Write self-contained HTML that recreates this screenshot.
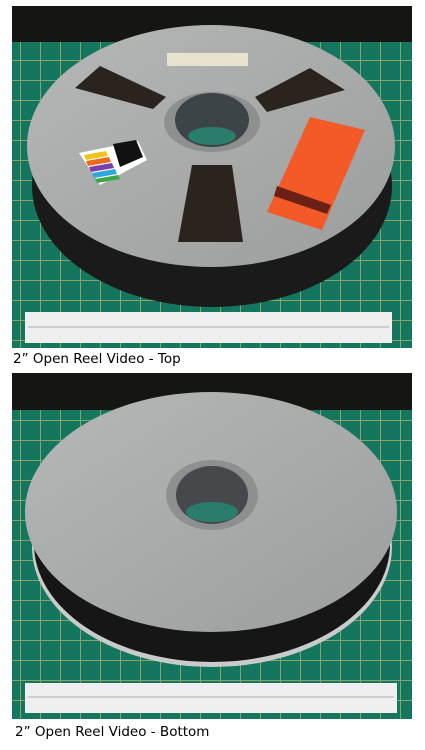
<!DOCTYPE html>
<html><head><meta charset="utf-8"><style>
html,body{margin:0;padding:0;background:#fff;width:425px;height:750px;overflow:hidden}
svg{position:absolute;left:0;top:0}
</style></head><body>
<svg width="425" height="750" viewBox="0 0 425 750">
<defs>
<pattern id="grid" width="20" height="20" patternUnits="userSpaceOnUse">
<rect width="20" height="20" fill="#157660"/>
<path d="M0 0.5H20M0.5 0V20" stroke="#b8b868" stroke-width="1" opacity="0.7"/>
</pattern>
<linearGradient id="metal" x1="0" y1="0" x2="1" y2="1">
<stop offset="0" stop-color="#b6b8b8"/><stop offset="0.5" stop-color="#a9abaa"/><stop offset="1" stop-color="#9c9e9d"/>
</linearGradient>
</defs>
<g>
<rect x="12" y="6" width="400" height="342" fill="url(#grid)"/>
<rect x="12" y="6" width="400" height="36" fill="#151512"/>
<ellipse cx="212" cy="186" rx="180" ry="121" fill="#1a1a1a"/>
<ellipse cx="211" cy="146" rx="184" ry="121" fill="url(#metal)"/>
<rect x="167" y="53" width="81" height="13" fill="#e8e3cf"/>
<path d="M75 88 L100 66 L166 97 L153 109Z" fill="#2a231e"/>
<path d="M255 97 L310 68 L345 90 L267 112Z" fill="#2a231e"/>
<path d="M192 165 L232 165 L243 242 L178 242Z" fill="#2a231e"/>
<ellipse cx="212" cy="122" rx="48" ry="30" fill="#8e908f"/>
<ellipse cx="212" cy="120" rx="37" ry="27" fill="#3d4448"/>
<ellipse cx="212" cy="136" rx="24" ry="9" fill="#2a7d6a"/>
<path d="M310 117 L365 130 L322 230 L267 212Z" fill="#f45a28"/>
<path d="M277 186 L331 205 L327 214 L274 196Z" fill="#6b2016"/>
<path d="M79 153 L138 141 L147 160 L100 185Z" fill="#fff"/>
<path d="M84 155 L106 151 L108 156 L86 160Z" fill="#f4c41c"/>
<path d="M86 161 L109 157 L111 162 L88 166Z" fill="#ee6a1b"/>
<path d="M89 167 L112 163 L114 168 L91 172Z" fill="#7a3fa8"/>
<path d="M92 173 L115 169 L117 174 L94 178Z" fill="#2ea8d8"/>
<path d="M95 179 L118 175 L120 179 L97 183Z" fill="#3aa845"/>
<path d="M113 144 L136 140 L143 157 L120 167Z" fill="#111"/>
<rect x="25" y="312" width="367" height="31" fill="#efefef"/>
<path d="M28 327H389" stroke="#999" stroke-width="0.7"/>
</g>
<text x="13" y="363" font-family="DejaVu Sans, Liberation Sans, sans-serif" font-size="13.5" fill="#000">2” Open Reel Video - Top</text>
<g>
<rect x="12" y="373" width="400" height="346" fill="url(#grid)"/>
<rect x="12" y="373" width="400" height="37" fill="#151512"/>
<ellipse cx="212" cy="547" rx="180" ry="120" fill="#c9cbca"/>
<ellipse cx="212" cy="544" rx="178" ry="118" fill="#161616"/>
<ellipse cx="211" cy="512" rx="186" ry="120" fill="url(#metal)"/>
<ellipse cx="212" cy="495" rx="46" ry="35" fill="#8e908f"/>
<ellipse cx="212" cy="495" rx="36" ry="29" fill="#45494b"/>
<ellipse cx="212" cy="512" rx="26" ry="10" fill="#2a7d6a"/>
<rect x="25" y="683" width="372" height="30" fill="#efefef"/>
<path d="M28 697H394" stroke="#999" stroke-width="0.7"/>
</g>
<text x="15" y="736" font-family="DejaVu Sans, Liberation Sans, sans-serif" font-size="13.5" fill="#000">2” Open Reel Video - Bottom</text>
</svg>
</body></html>
